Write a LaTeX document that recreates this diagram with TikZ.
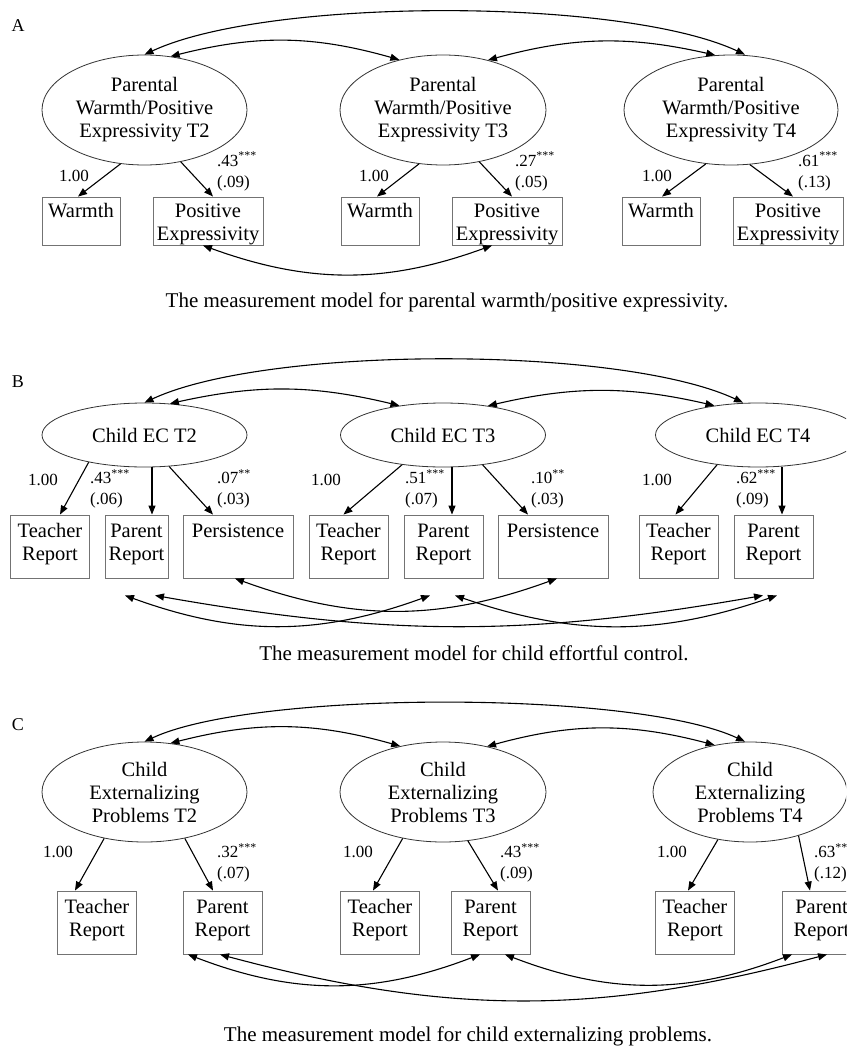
\documentclass[tikz,border=0pt]{standalone}
\usepackage{fontspec}
\setmainfont{Liberation Serif}
\usetikzlibrary{arrows.meta,shapes.geometric}

\begin{document}
\begin{tikzpicture}[x=1pt, y=1pt,
    >={Triangle[length=9pt,width=7pt]},
    every node/.style={font=\fontsize{20.5}{23}\selectfont},
    lat/.style={ellipse, draw=black!80, line width=0.8pt, inner sep=0pt, align=center},
    obs/.style={draw=black!55, line width=0.9pt, inner xsep=0pt, inner ysep=0pt, align=center},
    obsA/.style={obs, text height=20pt, text depth=28pt},
    obsB/.style={obs, text height=22pt, text depth=41pt},
    load/.style={->, line width=1.1pt},
    cov/.style={<->, line width=1.1pt},
    lbl/.style={inner sep=0pt, font=\fontsize{17}{21}\selectfont},
    captxt/.style={font=\fontsize{21}{25}\selectfont},
    panel/.style={font=\fontsize{18}{22}\selectfont}]
  \useasboundingbox (0,0) rectangle (846,-1046);
  \fill[white] (0,0) rectangle (846,-1046);
  \clip (0,0) rectangle (846,-1046);

  % A: parental warmth / positive expressivity
  \node[panel] (pA) at (18,-26) {A};
  \foreach \n/\x/\w/\tn in {1/144.5/205/2, 2/443/206/3, 3/731/214/4}
    \node[lat, minimum width=\w, minimum height=110] (ea\n) at (\x,-110) {Parental\\Warmth/Positive\\Expressivity T\tn};
  \foreach \n/\x/\y in {1/81/208, 2/380/507, 3/661/788} {
    \node[obsA, text width=78pt] (wa\n) at (\x,-221) {Warmth};
    \node[obsA, text width=110pt] (pa\n) at (\y,-221) {Positive\\Expressivity};
  }
  \foreach \n/\a/\b/\s in {1/246/305/-3, 2/246/305/-3, 3/245/289/1} {
    \draw[load] (ea\n.\a) -- ([xshift=\s]wa\n.north);
    \draw[load] (ea\n.\b) -- ([xshift=5]pa\n.north);
  }
  \foreach \n/\x/\k/\lv/\sv in {1/74/217/.43/.09, 2/374/515/.27/.05, 3/657/798/.61/.13} {
    \node[lbl] (ua\n) at (\x,-176) {1.00};
    \node[lbl, anchor=west, align=left] (va\n) at (\k,-171.5) {\lv\textsuperscript{***}\\(\sv)};
  }
  \draw[cov] (ea1.north) to[out=25, in=155, looseness=0.58] ([xshift=14]ea3.north);
  \draw[cov] (ea1.64) to[bend left=15] (ea2.131);
  \draw[cov] (ea2.48) to[bend left=14] (ea3.106);
  \draw[cov] ([xshift=-5]pa1.south) to[bend right=20] ([xshift=-15]pa2.south);
  \node[captxt] (capA) at (447,-302.8) {The measurement model for parental warmth/positive expressivity.};

  % B: child effortful control
  \node[panel] (pB) at (18,-382) {B};
  \foreach \n/\x/\tn in {1/144.5/2, 2/443/3, 3/758/4}
    \node[lat, minimum width=205, minimum height=64] (eb\n) at (\x,-435) {Child EC T\tn};
  \node[obsB, text width=79pt] (tb1) at (50,-546.5) {Teacher\\Report};
  \node[obsB, text width=63pt] (pb1) at (136.5,-546.5) {Parent\\Report};
  \node[obsB, text width=110pt] (sb1) at (238,-546.5) {Persistence};
  \node[obsB, text width=79pt] (tb2) at (348.5,-546.5) {Teacher\\Report};
  \node[obsB, text width=79pt] (pb2) at (443.5,-546.5) {Parent\\Report};
  \node[obsB, text width=110pt] (sb2) at (553,-546.5) {Persistence};
  \node[obsB, text width=79pt] (tb3) at (678.5,-546.5) {Teacher\\Report};
  \node[obsB, text width=79pt] (pb3) at (773.5,-546.5) {Parent\\Report};
  \draw[load] (eb1.206) -- ([xshift=10]tb1.north);
  \draw[load] ([xshift=7.5]eb1.south) -- ([xshift=15.5]pb1.north);
  \draw[load] (eb1.308) -- ([xshift=-25]sb1.north);
  \draw[load] (eb2.216) -- ([xshift=-5]tb2.north);
  \draw[load] ([xshift=9]eb2.south) -- ([xshift=8.5]pb2.north);
  \draw[load] (eb2.323) -- ([xshift=-25]sb2.north);
  \draw[load] (eb3.216) -- ([xshift=-3]tb3.north);
  \draw[load] ([xshift=24]eb3.south) -- ([xshift=8.5]pb3.north);
  \foreach \n/\x in {1/43, 2/326, 3/657}
    \node[lbl] (ub\n) at (\x,-480) {1.00};
  \foreach \n/\k/\lv/\st/\sv in {1/90/.43/***/.06, 2/217/.07/**/.03, 3/405/.51/***/.07, 4/531/.10/**/.03, 5/736/.62/***/.09}
    \node[lbl, anchor=west, align=left] (vb\n) at (\k,-489) {\lv\textsuperscript{\st}\\(\sv)};
  \draw[cov] (eb1.north) to[out=25, in=155, looseness=0.58] ([xshift=-15]eb3.north);
  \draw[cov] (eb1.51) to[bend left=13] (eb2.146);
  \draw[cov] (eb2.33) to[bend left=13] (eb3.146);
  \coordinate (qb1) at ([xshift=-11.5,yshift=-17]pb1.south);
  \coordinate (qb2) at ([xshift=18.5,yshift=-17]pb1.south);
  \coordinate (qb3) at ([xshift=-13.5,yshift=-17]pb2.south);
  \coordinate (qb4) at ([xshift=11.5,yshift=-17]pb2.south);
  \coordinate (qb5) at ([xshift=-10.5,yshift=-17]pb3.south);
  \coordinate (qb6) at ([xshift=3.5,yshift=-17]pb3.south);
  \draw[cov] (qb1) to[bend right=20] (qb3);
  \draw[cov] (qb2) to[bend right=10] (qb5);
  \draw[cov] (qb4) to[bend right=19] (qb6);
  \draw[cov] ([xshift=-3]sb1.south) to[bend right=20] ([xshift=4]sb2.south);
  \node[captxt] (capB) at (474,-652.8) {The measurement model for child effortful control.};

  % C: child externalizing problems
  \node[panel] (pC) at (18,-725) {C};
  \foreach \n/\x/\w/\tn in {1/144.5/205/2, 2/443/206/3, 3/750/194/4}
    \node[lat, minimum width=\w, minimum height=100] (ec\n) at (\x,-792) {Child\\Externalizing\\Problems T\tn};
  \foreach \n/\x/\y in {1/97/222.5, 2/380/490.5, 3/695/821.5} {
    \node[obsB, text width=79pt] (tc\n) at (\x,-922.5) {Teacher\\Report};
    \node[obsB, text width=79pt] (pc\n) at (\y,-922.5) {Parent\\Report};
  }
  \draw[load] (ec1.229) -- ([xshift=-22]tc1.north);
  \draw[load] (ec1.311) -- ([xshift=-9.5]pc1.north);
  \draw[load] (ec2.229) -- ([xshift=-7]tc2.north);
  \draw[load] (ec2.297) -- ([xshift=7.5]pc2.north);
  \draw[load] (ec3.236) -- ([xshift=-7]tc3.north);
  \draw[load] (ec3.318) -- ([xshift=-11.5]pc3.north);
  \foreach \n/\x/\k/\lv/\sv in {1/58/217/.32/.07, 2/358/500/.43/.09, 3/672/814/.63/.12} {
    \node[lbl] (uc\n) at (\x,-852) {1.00};
    \node[lbl, anchor=west, align=left] (vc\n) at (\k,-863) {\lv\textsuperscript{***}\\(\sv)};
  }
  \draw[cov] (ec1.north) to[out=25, in=155, looseness=0.52] ([xshift=-5]ec3.north);
  \draw[cov] (ec1.62) to[bend left=15] (ec2.133);
  \draw[cov] (ec2.46) to[bend left=15] (ec3.127);
  \draw[cov] ([xshift=-34.5]pc1.south) to[bend right=21] ([xshift=-10.5]pc2.south);
  \draw[cov] ([xshift=-2.5]pc1.south) to[bend right=15] ([xshift=5.5]pc3.south);
  \draw[cov] ([xshift=14.5]pc2.south) to[bend right=21] ([xshift=-29.5]pc3.south);
  \node[captxt] (capC) at (468,-1036.8) {The measurement model for child externalizing problems.};
\end{tikzpicture}
\end{document}
